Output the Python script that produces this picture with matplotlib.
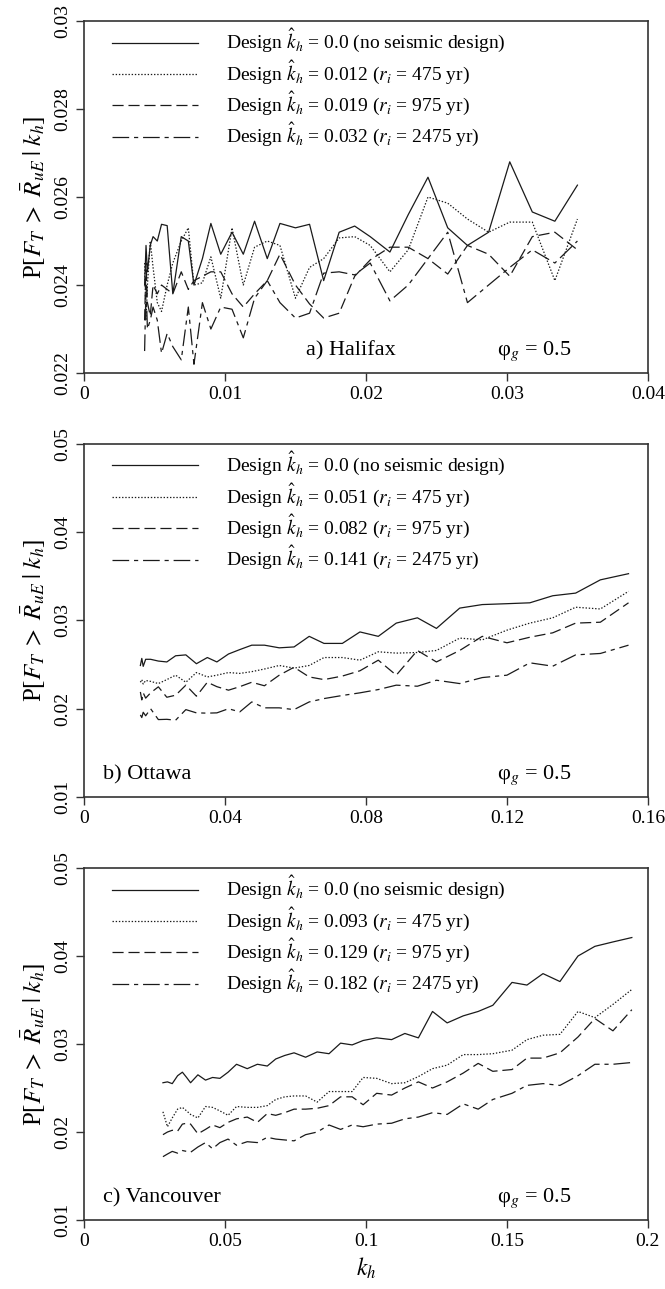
import matplotlib; matplotlib.use('Agg')
import matplotlib.pyplot as plt
import numpy as np

plt.rcParams['font.family'] = 'serif'
plt.rcParams['font.serif'] = ['Liberation Serif', 'DejaVu Serif']
plt.rcParams['mathtext.fontset'] = 'stix'
plt.rcParams['lines.scale_dashes'] = False

# --- a) Halifax ---
kh_a = [0.0043, 0.0044, 0.0045, 0.0047, 0.0049, 0.0052, 0.0055, 0.0059, 0.0063, 0.0069,
        0.0074, 0.0078, 0.0084, 0.0090, 0.0097, 0.0105, 0.0113, 0.0121, 0.0130, 0.0139,
        0.0150, 0.0160, 0.0170, 0.0181, 0.0192, 0.0203, 0.0217, 0.0230, 0.0244, 0.0258,
        0.0272, 0.0287, 0.0302, 0.0318, 0.0334, 0.0350]
hal_none = [0.0240, 0.0249, 0.0243, 0.0249, 0.0251, 0.0250, 0.02538, 0.02535, 0.0238, 0.0251,
            0.0250, 0.0240, 0.0246, 0.0254, 0.0247, 0.0252, 0.0247, 0.02545, 0.0246, 0.0254,
            0.0253, 0.02538, 0.0241, 0.0252, 0.02534, 0.0251, 0.02475, 0.0256, 0.02645, 0.0253,
            0.0249, 0.0252, 0.0268, 0.02566, 0.02545, 0.02627]
hal_475 = [0.0245, 0.0232, 0.0240, 0.0250, 0.0244, 0.0236, 0.0234, 0.0240, 0.0245, 0.0250,
           0.0253, 0.0240, 0.02405, 0.02464, 0.0237, 0.0253, 0.0240, 0.02486, 0.0250, 0.0249,
           0.0237, 0.0244, 0.0246, 0.02507, 0.0251, 0.0249, 0.0243, 0.0248, 0.0260, 0.02586,
           0.0255, 0.0252, 0.02543, 0.02543, 0.0241, 0.0255]
hal_975 = [0.0232, 0.0245, 0.0236, 0.0233, 0.0240, 0.0238, 0.0240, 0.0239, 0.0238, 0.0243,
           0.0239, 0.0241, 0.0242, 0.0243, 0.0243, 0.0238, 0.0235, 0.0238, 0.0241, 0.0247,
           0.0240, 0.02357, 0.02325, 0.02336, 0.0242, 0.02457, 0.02486, 0.02486, 0.0246, 0.02425,
           0.0249, 0.0247, 0.0242, 0.0251, 0.0252, 0.0248]
hal_2475 = [0.0225, 0.0240, 0.0230, 0.0232, 0.0235, 0.0232, 0.02245, 0.0229, 0.0226, 0.0223,
            0.0235, 0.0222, 0.0236, 0.0230, 0.0235, 0.02345, 0.0228, 0.0237, 0.0241, 0.0236,
            0.02325, 0.02336, 0.02427, 0.0243, 0.02423, 0.0245, 0.02364, 0.0240, 0.0246, 0.0252,
            0.0236, 0.0240, 0.0244, 0.0248, 0.0245, 0.0250]

# --- b) Ottawa ---
kh_b = [0.0160, 0.0164, 0.0168, 0.0175, 0.0189, 0.0211, 0.0235, 0.0260, 0.0289, 0.0319,
        0.0350, 0.0377, 0.0410, 0.0442, 0.0476, 0.0512, 0.0554, 0.0596, 0.0639, 0.0681,
        0.0733, 0.0783, 0.0835, 0.0886, 0.0946, 0.1000, 0.1066, 0.1130, 0.1200, 0.1265,
        0.1330, 0.1395, 0.1465, 0.1545]
ott_none = [0.0249, 0.0257, 0.0248, 0.0256, 0.0256, 0.0254, 0.0253, 0.0260, 0.0261, 0.0251,
            0.0258, 0.0253, 0.0262, 0.0267, 0.0272, 0.0272, 0.0269, 0.0270, 0.0282, 0.0274,
            0.0274, 0.0287, 0.0282, 0.0297, 0.0303, 0.0291, 0.0314, 0.0318, 0.0319, 0.0320,
            0.0328, 0.0331, 0.0346, 0.0353]
ott_475 = [0.0230, 0.0233, 0.0228, 0.0232, 0.0231, 0.02285, 0.0233, 0.0238, 0.0230, 0.0241,
           0.0236, 0.0238, 0.0241, 0.0240, 0.0242, 0.0245, 0.0249, 0.0246, 0.0249, 0.0258,
           0.0258, 0.0255, 0.02645, 0.0263, 0.02637, 0.0266, 0.0280, 0.0278, 0.0289, 0.0297,
           0.0303, 0.0315, 0.0313, 0.0333]
ott_975 = [0.0219, 0.0210, 0.0218, 0.0212, 0.0218, 0.02248, 0.0213, 0.02153, 0.02267, 0.02142,
           0.0230, 0.0225, 0.0221, 0.0225, 0.0230, 0.0226, 0.0238, 0.0247, 0.0236, 0.0233,
           0.0237, 0.0243, 0.0255, 0.0238, 0.0266, 0.0253, 0.0266, 0.0282, 0.02747, 0.0281,
           0.0286, 0.0297, 0.0298, 0.0320]
ott_2475 = [0.0193, 0.0190, 0.0196, 0.0192, 0.0200, 0.01877, 0.0188, 0.0187, 0.0199, 0.01953,
            0.0195, 0.01953, 0.0200, 0.01964, 0.02077, 0.0201, 0.0201, 0.0199, 0.02077, 0.02115,
            0.0215, 0.0218, 0.02217, 0.02267, 0.02255, 0.02323, 0.02285, 0.02353, 0.0238, 0.0252,
            0.02482, 0.0261, 0.02626, 0.0272]

# --- c) Vancouver ---
kh_c = [0.0280, 0.0296, 0.0313, 0.0332, 0.0349, 0.0364, 0.0378, 0.0404, 0.0431, 0.0456,
        0.0482, 0.0511, 0.0541, 0.0579, 0.0615, 0.0650, 0.0680, 0.0712, 0.0745, 0.0786,
        0.0827, 0.0869, 0.0910, 0.0951, 0.0990, 0.1038, 0.1091, 0.1138, 0.1186, 0.1236,
        0.1288, 0.1345, 0.1398, 0.1450, 0.1518, 0.1571, 0.1628, 0.1688, 0.1752, 0.1812,
        0.1876, 0.1943]
van_none = [0.0256, 0.0257, 0.0255, 0.0264, 0.0268, 0.0262, 0.0256, 0.0265, 0.0259, 0.0262,
            0.0261, 0.0268, 0.0277, 0.0272, 0.0277, 0.0275, 0.0283, 0.0287, 0.0290, 0.0285,
            0.0291, 0.0289, 0.0301, 0.0299, 0.0304, 0.0307, 0.0305, 0.0312, 0.0307, 0.0337,
            0.0324, 0.0332, 0.0337, 0.0344, 0.0370, 0.0367, 0.0380, 0.0371, 0.0400, 0.0411,
            0.0416, 0.0421]
van_475 = [0.0223, 0.0206, 0.0216, 0.0226, 0.0228, 0.0224, 0.0220, 0.0216, 0.0229, 0.0228,
           0.0224, 0.0219, 0.0229, 0.0228, 0.0228, 0.0230, 0.0237, 0.0240, 0.0241, 0.0241,
           0.0234, 0.0246, 0.0246, 0.0246, 0.0262, 0.0261, 0.0255, 0.0256, 0.0263, 0.0272,
           0.0276, 0.0288, 0.0288, 0.0289, 0.0293, 0.0305, 0.0310, 0.0311, 0.0337, 0.0330,
           0.0345, 0.0362]
van_975 = [0.0197, 0.0200, 0.0202, 0.0201, 0.0209, 0.0210, 0.0209, 0.0198, 0.0203, 0.0208,
           0.0205, 0.0211, 0.0215, 0.0217, 0.0211, 0.0221, 0.0219, 0.0222, 0.0226, 0.0226,
           0.0227, 0.0230, 0.0240, 0.0240, 0.0231, 0.0244, 0.0242, 0.0250, 0.0257, 0.0250,
           0.0257, 0.0267, 0.0278, 0.0269, 0.0271, 0.0284, 0.0284, 0.0290, 0.0308, 0.0329,
           0.0315, 0.0339]
van_2475 = [0.0172, 0.0175, 0.0178, 0.0176, 0.0179, 0.0178, 0.0177, 0.0183, 0.0188, 0.0181,
            0.0188, 0.0192, 0.0185, 0.0189, 0.0188, 0.0194, 0.0192, 0.0191, 0.0190, 0.0197,
            0.0200, 0.0208, 0.0203, 0.0208, 0.0206, 0.0209, 0.0210, 0.0215, 0.0217, 0.0222,
            0.0220, 0.0232, 0.0226, 0.0237, 0.0244, 0.0253, 0.0255, 0.0253, 0.0264, 0.0277,
            0.0277, 0.0279]

design_a = ['0.0 (no seismic design)', '0.012 ($r_i$ = 475 yr)', '0.019 ($r_i$ = 975 yr)', '0.032 ($r_i$ = 2475 yr)']
design_b = ['0.0 (no seismic design)', '0.051 ($r_i$ = 475 yr)', '0.082 ($r_i$ = 975 yr)', '0.141 ($r_i$ = 2475 yr)']
design_c = ['0.0 (no seismic design)', '0.093 ($r_i$ = 475 yr)', '0.129 ($r_i$ = 975 yr)', '0.182 ($r_i$ = 2475 yr)']

xt_a = [0, 0.01, 0.02, 0.03, 0.04]
xtl_a = ['0', '0.01', '0.02', '0.03', '0.04']
yt_a = [0.022, 0.024, 0.026, 0.028, 0.03]
ytl_a = ['0.022', '0.024', '0.026', '0.028', '0.03']
xt_b = [0, 0.04, 0.08, 0.12, 0.16]
xtl_b = ['0', '0.04', '0.08', '0.12', '0.16']
xt_c = [0, 0.05, 0.1, 0.15, 0.2]
xtl_c = ['0', '0.05', '0.1', '0.15', '0.2']
yt_bc = [0.01, 0.02, 0.03, 0.04, 0.05]
ytl_bc = ['0.01', '0.02', '0.03', '0.04', '0.05']

styles = ['-', (0, (1, 1.3)), (0, (8, 3.5)), (0, (12, 3.5, 3, 3.5))]
line_col = '#1a1a1a'

fig = plt.figure(figsize=(6.65, 12.89), dpi=100)
rects = [[0.1263, 0.7106, 0.848, 0.2731],
         [0.1263, 0.3817, 0.848, 0.2739],
         [0.1263, 0.0535, 0.848, 0.2731]]

panels = [
    (kh_a, [hal_none, hal_475, hal_975, hal_2475], design_a, xt_a, xtl_a, yt_a, ytl_a, 'a) Halifax', 0.394),
    (kh_b, [ott_none, ott_475, ott_975, ott_2475], design_b, xt_b, xtl_b, yt_bc, ytl_bc, 'b) Ottawa', 0.034),
    (kh_c, [van_none, van_475, van_975, van_2475], design_c, xt_c, xtl_c, yt_bc, ytl_bc, 'c) Vancouver', 0.034),
]

for i, (kh, series, design, xt, xtl, yt, ytl, name, name_x) in enumerate(panels):
    ax = fig.add_axes(rects[i])
    handles = []
    for s, ls in zip(series, styles):
        h, = ax.plot(kh, s, color=line_col, lw=0.9, linestyle=ls)
        handles.append(h)
    labels = [r'Design $\hat{k}_h$ = ' + d for d in design]
    ax.legend(handles, labels, loc='upper left', bbox_to_anchor=(0.05, 0.982),
              frameon=False, fontsize=14, handlelength=4.4, handletextpad=1.45,
              labelspacing=0.17, borderpad=0, borderaxespad=0)

    ax.set_xlim(xt[0], xt[-1])
    ax.set_ylim(yt[0], yt[-1])
    ax.set_xticks(xt)
    ax.set_xticklabels(xtl, fontsize=14)
    ax.set_yticks(yt)
    ax.set_yticklabels(ytl, fontsize=14, rotation=90, va='center')
    ax.tick_params(direction='out', length=6, width=1.0, colors='#333333', labelcolor='black')
    for sp in ax.spines.values():
        sp.set_linewidth(1.2)
        sp.set_color('#333333')
    ax.set_ylabel(r'P[$F_T\;>\;\bar{R}_{uE}\;|\;k_h$]', fontsize=18, labelpad=4)

    ax.text(name_x, 0.05, name, transform=ax.transAxes, fontsize=16, va='baseline')
    ax.text(0.732, 0.05, r'φ$_g$ = 0.5', transform=ax.transAxes, fontsize=16, va='baseline')

ax.set_xlabel(r'$k_h$', fontsize=17, labelpad=4)

plt.savefig('out.png', dpi=100)
plt.close()
